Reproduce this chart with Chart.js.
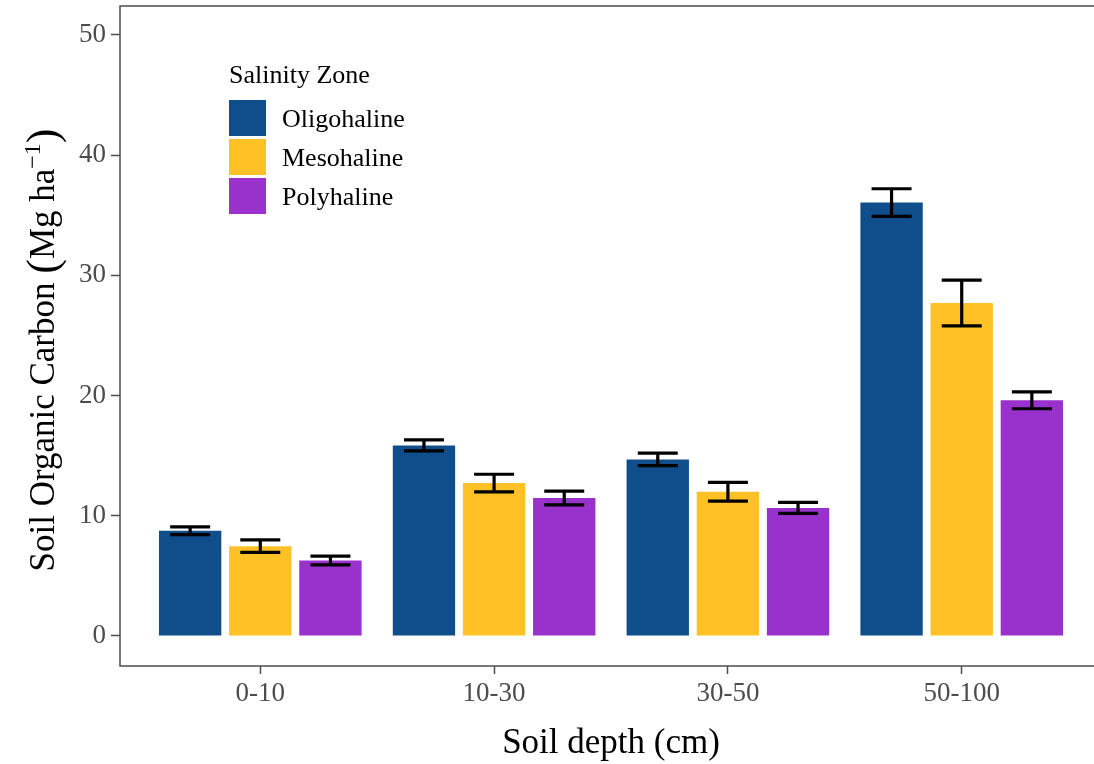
<!DOCTYPE html>
<html>
<head>
<meta charset="utf-8">
<script src="https://cdn.jsdelivr.net/npm/chart.js@4.4.1/dist/chart.umd.min.js"></script>
<style>
  html, body { margin: 0; padding: 0; background: #ffffff; overflow: hidden; }
  #wrap { width: 1094px; height: 764px; overflow: hidden; position: relative; }
  canvas { display: block; }
</style>
</head>
<body>
<div id="wrap"><canvas id="c" width="1110" height="764"></canvas></div>
<script>
const categories = ['0-10', '10-30', '30-50', '50-100'];
const seriesNames = ['Oligohaline', 'Mesohaline', 'Polyhaline'];
const oligohaline = [8.75, 15.85, 14.68, 36.05];
const mesohaline = [7.47, 12.72, 12.0, 27.7];
const polyhaline = [6.28, 11.48, 10.65, 19.6];
const oligohalineErr = [0.33, 0.46, 0.52, 1.15];
const mesohalineErr = [0.52, 0.73, 0.78, 1.9];
const polyhalineErr = [0.36, 0.57, 0.46, 0.7];
const yTicks = [0, 10, 20, 30, 40, 50];
const legendTitle = 'Salinity Zone';
const xTitle = 'Soil depth (cm)';

const colors = ['#104E8B', '#FFC125', '#9932CC'];
const values = [oligohaline, mesohaline, polyhaline];
const errors = [oligohalineErr, mesohalineErr, polyhalineErr];
const SERIF = '"Liberation Serif", "Times New Roman", serif';

const datasets = seriesNames.map((name, s) => ({
  label: name,
  data: categories.map((c, i) => ({ x: i + 1, y: values[s][i] })),
  backgroundColor: colors[s],
  borderWidth: 0,
  categoryPercentage: 0.9,
  barPercentage: 0.8 / 0.9,
  errors: errors[s]
}));

const errorBars = {
  id: 'errorBars',
  afterDatasetsDraw(chart) {
    const ctx = chart.ctx;
    const xs = chart.scales.x, ys = chart.scales.y;
    const half = xs.getPixelForValue(1.0855) - xs.getPixelForValue(1);
    ctx.save();
    ctx.strokeStyle = '#000000';
    ctx.lineWidth = 3.2;
    chart.data.datasets.forEach((ds, di) => {
      const meta = chart.getDatasetMeta(di);
      meta.data.forEach((bar, i) => {
        const v = ds.data[i].y, e = ds.errors[i];
        const x = bar.x;
        const yt = ys.getPixelForValue(v + e);
        const yb = ys.getPixelForValue(v - e);
        ctx.beginPath();
        ctx.moveTo(x, yt); ctx.lineTo(x, yb);
        ctx.moveTo(x - half, yt); ctx.lineTo(x + half, yt);
        ctx.moveTo(x - half, yb); ctx.lineTo(x + half, yb);
        ctx.stroke();
      });
    });
    ctx.restore();
  }
};

const frameAndText = {
  id: 'frameAndText',
  afterDraw(chart) {
    const ctx = chart.ctx;
    const a = chart.chartArea;
    ctx.save();
    ctx.strokeStyle = '#4D4D4D';
    ctx.lineWidth = 1.5;
    ctx.strokeRect(a.left, a.top, a.right - a.left, a.bottom - a.top);

    ctx.fillStyle = '#000000';
    ctx.font = '26px ' + SERIF;
    ctx.textAlign = 'left';
    ctx.textBaseline = 'alphabetic';
    ctx.fillText(legendTitle, 229, 83);
    chart.data.datasets.forEach((ds, i) => {
      const top = 100 + i * 39;
      ctx.fillStyle = ds.backgroundColor;
      ctx.fillRect(229, top, 37, 36);
      ctx.fillStyle = '#000000';
      ctx.font = '26px ' + SERIF;
      ctx.fillText(ds.label, 282, top + 27);
    });

    ctx.font = '35px ' + SERIF;
    ctx.textAlign = 'center';
    ctx.fillText(xTitle, (a.left + a.right) / 2, 753);

    const parts = [
      { t: 'Soil Organic Carbon ', f: '35px ', dy: 0 },
      { t: '(', f: '44px ', dy: 3 },
      { t: 'Mg ha', f: '35px ', dy: 0 },
      { t: '\u22121', f: '24px ', dy: -14 },
      { t: ')', f: '44px ', dy: 3 }
    ];
    let total = 0;
    parts.forEach(p => { ctx.font = p.f + SERIF; p.w = ctx.measureText(p.t).width; total += p.w; });
    ctx.translate(54, 350);
    ctx.rotate(-Math.PI / 2);
    ctx.textAlign = 'left';
    let x = -total / 2;
    parts.forEach(p => {
      ctx.font = p.f + SERIF;
      ctx.fillText(p.t, x, p.dy);
      x += p.w;
    });
    ctx.restore();
  }
};

new Chart(document.getElementById('c'), {
  type: 'bar',
  data: { datasets },
  options: {
    responsive: false,
    animation: false,
    devicePixelRatio: 1,
    layout: { padding: { left: 0, top: 6, right: 8, bottom: 0 } },
    plugins: { legend: { display: false }, tooltip: { enabled: false } },
    scales: {
      x: {
        type: 'linear',
        min: 0.4,
        max: 4.6,
        offset: false,
        afterBuildTicks: (s) => { s.ticks = categories.map((c, i) => ({ value: i + 1 })); },
        afterFit: (s) => { s.height = 98; s.paddingLeft = 0; s.paddingRight = 0; },
        ticks: {
          callback: (v) => categories[Math.round(v) - 1],
          color: '#4D4D4D',
          font: { family: SERIF, size: 27 },
          padding: 4,
          maxRotation: 0,
          autoSkip: false
        },
        grid: { display: true, offset: false, drawOnChartArea: false, tickLength: 8, tickColor: '#4D4D4D', tickWidth: 1.5 },
        border: { display: false }
      },
      y: {
        type: 'linear',
        min: -2.5,
        max: 52.4,
        afterBuildTicks: (s) => { s.ticks = yTicks.map(v => ({ value: v })); },
        afterFit: (s) => { s.width = 120; s.paddingTop = 0; s.paddingBottom = 0; },
        ticks: {
          color: '#4D4D4D',
          font: { family: SERIF, size: 27 },
          padding: 5
        },
        grid: { display: true, drawOnChartArea: false, tickLength: 9, tickColor: '#4D4D4D', tickWidth: 1.5 },
        border: { display: false }
      }
    }
  },
  plugins: [errorBars, frameAndText]
});
</script>
</body>
</html>
